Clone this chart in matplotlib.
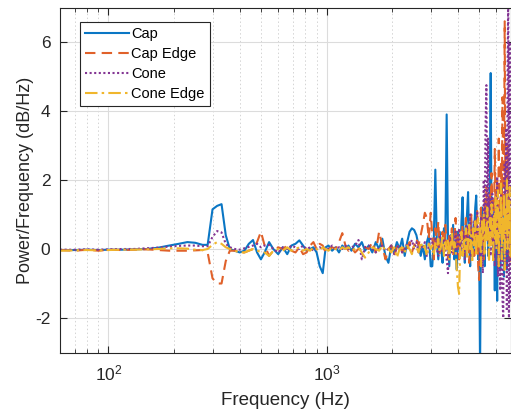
import matplotlib
matplotlib.use("Agg")
import matplotlib.pyplot as plt
import numpy as np

plt.rcParams['font.family'] = ['Liberation Sans', 'DejaVu Sans']
plt.rcParams['mathtext.fontset'] = 'custom'
plt.rcParams['mathtext.rm'] = 'Liberation Sans'
plt.rcParams['mathtext.it'] = 'Liberation Sans:italic'

labels = ["Cap", "Cap Edge", "Cone", "Cone Edge"]

freq = [60, 70, 80, 90, 100, 115, 130, 150, 170, 190, 210, 230, 250, 270,
        285, 300, 315, 330, 345, 360, 380, 400, 420, 440, 460, 480, 500, 520, 545, 570, 600,
        630, 660, 690, 720, 750, 780, 810, 840, 870, 900, 930, 960, 990, 1020, 1060, 1100,
        1140, 1180, 1220, 1260, 1300, 1350, 1400, 1450, 1500,
        1560, 1620, 1680, 1740, 1800, 1860, 1920, 1980, 2040, 2100, 2160, 2220, 2280, 2340,
        2400, 2460, 2520, 2580, 2640, 2700, 2760, 2820, 2880, 2940, 3000,
        3050, 3100, 3150, 3200, 3250, 3300, 3350, 3400, 3450, 3500,
        3550, 3600, 3650, 3700, 3750, 3800, 3850, 3900, 3950, 4000,
        4050, 4100, 4150, 4200, 4250, 4300, 4350, 4400, 4450, 4500,
        4550, 4600, 4650, 4700, 4750, 4800, 4850, 4900, 4950, 5000,
        5050, 5100, 5150, 5200, 5250, 5300, 5350, 5400, 5450, 5500,
        5550, 5600, 5650, 5700, 5750, 5800, 5850, 5900, 5950, 6000,
        6050, 6100, 6150, 6200, 6250, 6300, 6350, 6400, 6450, 6500,
        6550, 6600, 6650, 6700, 6750, 6800, 6850, 6900, 6950, 7000]

cap = [-0.03, -0.03, -0.02, -0.03, -0.02, -0.02, -0.01, 0.0, 0.04, 0.1, 0.15, 0.2, 0.18, 0.12,
       0.12, 1.15, 1.25, 1.3, 0.4, 0.0, -0.05, -0.1, -0.05, 0.15, 0.26, -0.1, -0.3, -0.1, 0.2, 0.0, -0.15,
       0.05, -0.15, 0.1, 0.15, 0.25, 0.1, -0.05, 0.0, 0.05, -0.1, -0.5, -0.7, 0.05, 0.1, -0.05, 0.05,
       -0.1, 0.1, 0.0, 0.1, -0.05, 0.15, 0.05, 0.2, -0.05,
       0.1, -0.1, 0.2, 0.0, 0.3, -0.2, -0.4, 0.1, -0.1, 0.2, 0.0, 0.3, -0.2, 0.2,
       0.5, 0.6, 0.55, 0.4, 0.1, -0.2, 0.1, -0.3, 0.2, 0.4, -0.5,
       -0.5, 0.3, 2.3, 0.2, -0.3, 0.5, 0.0, -0.4, 0.6, 0.2,
       3.9, 0.3, -0.5, 0.4, 0.0, 0.7, -0.3, 0.2, -0.6, 0.5,
       0.1, -0.2, 0.8, 1.5, 0.3, -0.4, 0.6, 1.0, 1.65, 0.2,
       -0.5, 0.8, 0.3, -0.2, 0.6, 1.2, 1.55, 0.4, -0.3, 0.2,
       -3.5, 0.5, 1.2, 0.0, 0.8, -0.5, 1.0, 0.3, 1.3, -0.2,
       0.9, 2.0, 5.1, 0.5, 1.4, -0.3, 0.8, -1.2, 1.5, 0.2,
       -1.5, 0.9, 0.0, 1.2, -0.6, 0.6, 1.8, -0.2, 0.7, -0.8,
       1.0, 0.3, 1.4, -0.6, 0.5, 1.1, -0.3, 0.7, 0.2, 0.5]

cap_edge = [-0.03, -0.05, -0.02, -0.05, -0.02, -0.03, -0.02, -0.01, -0.03, -0.05, -0.05, -0.05, -0.04, -0.03,
            -0.1, -0.85, -1.0, -1.0, -0.35, -0.05, -0.05, -0.1, -0.1, -0.05, 0.0, 0.2, 0.5, 0.1, -0.2, -0.05, 0.05,
            0.0, 0.1, -0.05, -0.1, 0.05, -0.15, -0.1, 0.1, 0.2, 0.0, 0.15, 0.1, -0.1, 0.0, 0.05, 0.0,
            0.2, 0.46, 0.1, -0.05, 0.05, -0.1, 0.0, 0.1, 0.05,
            0.0, 0.2, -0.1, 0.5, 0.1, -0.3, 0.0, 0.1, -0.2, 0.05, 0.15, -0.1, 0.1, 0.0,
            0.2, -0.1, 0.1, 0.3, 0.1, 0.4, 0.7, 1.05, 0.9, 0.3, 1.05,
            0.4, -0.3, 0.6, 0.1, 0.8, -0.2, 0.3, 0.5, -0.1, 0.7,
            0.2, -0.3, 0.4, 0.1, 0.6, -0.2, 0.3, 0.9, 0.0, 0.4,
            -0.3, 0.5, 0.2, 0.7, -0.1, 0.4, 0.9, 0.1, 0.6, -0.4,
            0.3, 1.0, 0.2, 0.6, -0.2, 0.8, 0.3, 1.1, -0.5, -0.9,
            0.4, 1.2, 0.2, 0.9, -0.3, 1.4, 0.5, 1.8, 0.2, 1.1,
            -0.4, 1.6, 0.6, 2.2, 0.3, 1.5, 0.8, 2.9, 1.0, 0.3,
            2.0, -0.5, 3.2, 1.4, 0.6, 2.5, 0.9, 4.4, 1.2, 2.0,
            6.6, 0.8, 1.9, 0.2, 3.0, 0.7, 1.5, -0.4, 1.0, 0.5]

cone = [-0.02, -0.02, -0.01, -0.02, -0.01, 0.0, 0.0, 0.02, 0.04, 0.07, 0.09, 0.1, 0.1, 0.08,
        0.08, 0.35, 0.52, 0.48, 0.15, 0.05, 0.0, -0.02, 0.02, 0.06, 0.1, 0.15, 0.05, 0.1, 0.12, 0.0, -0.1,
        0.05, 0.0, 0.1, 0.05, 0.0, 0.1, 0.0, 0.05, -0.05, 0.0, 0.05, 0.0, 0.05, 0.0, 0.1, 0.0,
        0.05, 0.0, 0.1, 0.0, 0.05, 0.1, 0.26, -0.3, 0.05,
        0.1, 0.0, -0.1, 0.05, 0.1, -0.05, 0.0, 0.1, -0.15, 0.05, 0.1, -0.1, 0.0, 0.15,
        0.1, 0.26, 0.0, 0.2, -0.1, 0.1, 0.0, 0.2, -0.2, 0.1, 0.3,
        0.2, -0.1, 0.3, 0.0, -0.2, 0.4, 0.1, -0.1, 0.3, 0.0,
        -0.3, -0.7, 0.2, 0.4, -0.1, 0.3, 0.0, 0.5, -0.2, 0.2,
        0.6, -0.1, 0.3, 0.0, 0.5, -0.3, 0.2, 0.7, 0.0, 0.4,
        1.0, -0.2, 0.5, 0.1, 0.8, -0.1, 0.4, 1.1, 0.2, 0.6,
        -0.3, 0.9, 0.0, -0.7, 2.0, 0.3, 3.6, 4.75, 0.5, 3.2,
        0.2, 1.5, -0.2, 0.8, 1.6, 0.1, 1.0, -0.5, 1.4, 0.3,
        2.1, -0.8, 1.2, 0.4, -1.2, 1.8, 0.2, -1.5, -2.0, 1.0,
        2.5, -0.6, 3.5, -1.8, 5.0, 7.5, -2.0, 6.0, -1.5, 2.0]

cone_edge = [-0.05, -0.04, -0.03, -0.04, -0.03, -0.02, -0.02, -0.01, 0.0, 0.02, 0.02, 0.01, -0.02, -0.03,
             0.0, 0.12, 0.2, 0.15, 0.05, 0.0, -0.05, -0.1, -0.1, -0.05, 0.0, -0.05, -0.08, -0.1, -0.2, -0.05, 0.0,
             -0.05, 0.05, -0.05, 0.0, 0.05, -0.05, 0.0, -0.05, 0.05, 0.0, -0.05, 0.05, 0.0, -0.05, 0.05, 0.0,
             -0.05, 0.05, 0.0, 0.05, -0.05, 0.0, 0.05, -0.1, -0.25,
             -0.1, 0.05, 0.0, -0.05, 0.1, -0.05, 0.0, -0.1, 0.05, -0.25, 0.0, 0.05, -0.1, 0.1,
             0.0, -0.15, 0.1, 0.05, -0.1, 0.2, 0.0, 0.1, -0.2, 0.15, 0.0,
             0.1, -0.2, 0.2, 0.0, 0.3, -0.1, 0.1, 0.4, -0.2, 0.2,
             0.0, 0.3, -0.3, 0.1, 0.5, -0.1, 0.2, 0.0, -0.6, -1.1,
             -1.3, 0.2, 0.5, -0.2, 0.3, 0.0, 0.6, -0.3, 0.2, 0.7,
             0.0, 0.4, -0.4, 0.6, 0.1, 0.8, -0.2, 0.5, 0.9, 0.0,
             0.6, -0.5, 0.8, 0.3, 1.0, -0.2, 0.7, 0.2, 1.2, 0.4,
             -0.3, 0.9, 0.1, 1.3, 0.5, -0.4, 1.0, 0.3, 1.5, 0.0,
             0.8, 1.7, -0.5, 1.1, 0.4, 1.9, -0.3, 0.9, 0.3, 1.6,
             -0.6, 1.2, 0.5, 2.0, 0.0, 1.4, 0.6, 1.8, -0.2, 1.0]

series = [cap, cap_edge, cone, cone_edge]
colors = ["#0a76c4", "#e0612a", "#833593", "#f0b62c"]
styles = ["-", (0, (5, 3)), (0, (1, 1.2)), (0, (6, 2, 1.2, 2))]

fig = plt.figure(figsize=(5.11, 4.13), dpi=100)
ax = fig.add_axes([60 / 511, (413 - 352.5) / 413, 451 / 511, 345 / 413])

for ys, c, ls, lab in zip(series, colors, styles, labels):
    ax.plot(freq, ys, color=c, linestyle=ls, linewidth=1.5, label=lab)

ax.set_xscale('log')
ax.set_xlim(60, 7000)
ax.set_ylim(-3, 7)
ax.set_yticks([-2, 0, 2, 4, 6])
ax.set_yticklabels(['-2', '0', '2', '4', '6'])

ax.grid(True, which='major', color='#dcdcdc', linewidth=0.8)
ax.grid(True, which='minor', color='#d4d4d4', linestyle=(0, (1.5, 2.5)), linewidth=0.7)
ax.set_axisbelow(True)

for sp in ax.spines.values():
    sp.set_color('#262626')
    sp.set_linewidth(0.8)
ax.tick_params(which='both', direction='in', top=True, right=True, colors='#262626',
               labelsize=12.5, labelcolor='#262626')
ax.tick_params(which='major', length=5)
ax.tick_params(axis='x', which='major', pad=8)
ax.tick_params(axis='y', which='major', pad=7)
ax.tick_params(which='minor', length=3)

ax.set_xlabel('Frequency (Hz)', fontsize=13.5, color='#262626', labelpad=6)
ax.set_ylabel('Power/Frequency (dB/Hz)', fontsize=13, color='#262626', labelpad=1)

leg = ax.legend(loc='upper left', bbox_to_anchor=(80 / 511, 1 - 22 / 413),
                bbox_transform=fig.transFigure, fontsize=10.5, frameon=True,
                fancybox=False, handlelength=3.0, handletextpad=0.15,
                labelspacing=0.4, borderpad=0.35, borderaxespad=0)
leg.get_frame().set_edgecolor('#262626')
leg.get_frame().set_linewidth(0.8)
leg.get_frame().set_alpha(1)

fig.savefig('out.png', dpi=100)
